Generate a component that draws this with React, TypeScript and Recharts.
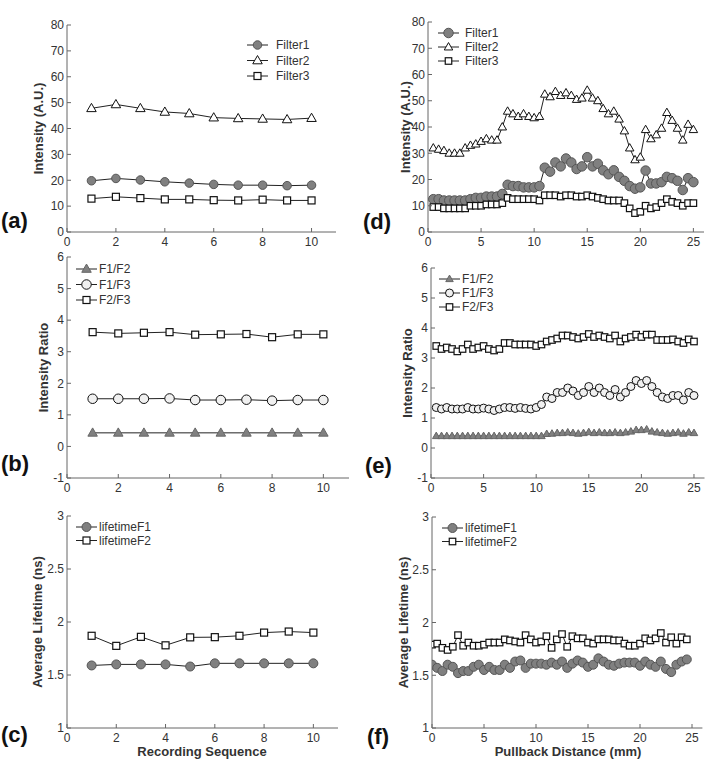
import React from "react";
import { LineChart, Line, XAxis, YAxis, Legend } from "recharts";

// ---------- data ----------
const seqX = [1, 2, 3, 4, 5, 6, 7, 8, 9, 10];
const filter1Seq = [19.8, 20.7, 20.1, 19.4, 18.9, 18.4, 18.1, 18.1, 17.9, 18.1];
const filter2Seq = [47.8, 49.3, 47.8, 46.4, 45.8, 44.2, 43.9, 43.7, 43.5, 44];
const filter3Seq = [12.9, 13.6, 13.1, 12.6, 12.6, 12.3, 12.2, 12.5, 12.2, 12.2];

const ratio12Seq = [0.43, 0.43, 0.43, 0.43, 0.43, 0.43, 0.43, 0.43, 0.43, 0.43];
const ratio13Seq = [1.51, 1.51, 1.51, 1.52, 1.47, 1.47, 1.48, 1.45, 1.47, 1.47];
const ratio23Seq = [3.62, 3.58, 3.6, 3.62, 3.54, 3.55, 3.56, 3.46, 3.55, 3.55];

const lifeF1Seq = [1.59, 1.6, 1.6, 1.6, 1.58, 1.61, 1.61, 1.61, 1.61, 1.61];
const lifeF2Seq = [1.87, 1.775, 1.86, 1.78, 1.855, 1.857, 1.87, 1.9, 1.91, 1.9];

const pullX = [
  0.5, 1, 1.5, 2, 2.5, 3, 3.5, 4, 4.5, 5, 5.5, 6, 6.5, 7, 7.5, 8, 8.5, 9, 9.5, 10,
  10.5, 11, 11.5, 12, 12.5, 13, 13.5, 14, 14.5, 15, 15.5, 16, 16.5, 17, 17.5, 18, 18.5, 19, 19.5, 20,
  20.5, 21, 21.5, 22, 22.5, 23, 23.5, 24, 24.5, 25,
];
const filter1Pull = [
  12.5, 12.5, 12, 12, 12, 12, 12, 12.5, 13, 13,
  13.5, 13.5, 13.5, 14.5, 18, 17.5, 17.5, 17, 17, 17,
  17.5, 24.5, 23, 26.5, 25, 28, 26.5, 24, 25, 28.5,
  25, 26, 23.5, 22, 23.5, 21, 19.5, 17.5, 16.5, 17,
  23.4, 18.5, 18.5, 19, 21, 20.5, 19.5, 16, 20.5, 19,
];
const filter2Pull = [
  32, 31.5, 31, 30, 30, 30, 32, 33, 33.5, 34.5,
  35.5, 35, 35, 40, 46, 45, 44, 45, 44, 43.5,
  44, 52.5, 51.5, 53.5, 52, 53, 52, 50.5, 51, 54,
  51, 50, 47, 45, 46, 43, 38.5, 32, 27.5, 28.5,
  39, 35.5, 37, 39.5, 45.5, 42.5, 39.5, 35, 41, 39,
];
const filter3Pull = [
  9.5, 9.5, 9, 9, 9, 9, 9, 10, 10, 10,
  10.5, 10.5, 10.5, 11, 13, 12.5, 12.5, 12.5, 12.5, 12.5,
  12, 14, 14, 14, 13.5, 14, 14, 13.5, 13.5, 14,
  13.5, 13, 12.5, 12, 12, 12, 11, 9, 7.2, 7.7,
  10, 9, 9.5, 11, 12.5, 11.5, 11, 10, 11, 11,
];

const ratio12Pull = [
  0.4, 0.4, 0.4, 0.4, 0.4, 0.4, 0.4, 0.4, 0.4, 0.4,
  0.4, 0.4, 0.4, 0.4, 0.4, 0.4, 0.4, 0.4, 0.4, 0.4,
  0.4, 0.47, 0.48, 0.5, 0.5, 0.52, 0.5, 0.48, 0.5, 0.53,
  0.5, 0.52, 0.5, 0.5, 0.52, 0.5, 0.52, 0.55, 0.6, 0.6,
  0.62, 0.55, 0.52, 0.5, 0.48, 0.5, 0.52, 0.48, 0.52, 0.5,
];
const ratio13Pull = [
  1.35, 1.3, 1.35, 1.3, 1.3, 1.3, 1.35, 1.3, 1.3, 1.33,
  1.3, 1.25, 1.3, 1.35, 1.35, 1.32, 1.35, 1.32, 1.3, 1.35,
  1.45, 1.7, 1.65, 1.85, 1.85, 2.0, 1.9, 1.75, 1.85, 2.05,
  1.85, 2.0, 1.85, 1.75, 1.95, 1.7, 1.85, 2.05, 2.25, 2.15,
  2.25, 2.05, 1.85, 1.7, 1.65, 1.75, 1.75, 1.6, 1.85, 1.75,
];
const ratio23Pull = [
  3.4, 3.3, 3.35, 3.3, 3.22, 3.3, 3.45, 3.3, 3.35, 3.4,
  3.3, 3.25, 3.3, 3.5, 3.5, 3.45, 3.45, 3.45, 3.45, 3.4,
  3.45, 3.55, 3.6, 3.65, 3.75, 3.75, 3.7, 3.65, 3.7, 3.8,
  3.7, 3.75, 3.7, 3.65, 3.75, 3.55, 3.65, 3.7, 3.78, 3.7,
  3.78, 3.78, 3.6, 3.6, 3.6, 3.62, 3.55, 3.5, 3.62, 3.55,
];

const lifeX = [
  0, 0.5, 1, 1.5, 2, 2.5, 3, 3.5, 4, 4.5, 5, 5.5, 6, 6.5, 7, 7.5, 8, 8.5, 9, 9.5,
  10, 10.5, 11, 11.5, 12, 12.5, 13, 13.5, 14, 14.5, 15, 15.5, 16, 16.5, 17, 17.5, 18, 18.5, 19, 19.5,
  20, 20.5, 21, 21.5, 22, 22.5, 23, 23.5, 24, 24.5,
];
const lifeF1Pull = [
  1.6, 1.57, 1.54, 1.6, 1.58, 1.52, 1.54, 1.54, 1.58, 1.6,
  1.55, 1.58, 1.55, 1.55, 1.6, 1.57, 1.63, 1.64, 1.57, 1.61,
  1.61, 1.61, 1.6, 1.62, 1.6, 1.63, 1.57, 1.61, 1.64, 1.62,
  1.58, 1.6, 1.66, 1.63, 1.6, 1.59, 1.61, 1.62, 1.62, 1.62,
  1.59, 1.63, 1.6, 1.58, 1.63, 1.56, 1.53, 1.6, 1.63, 1.65,
];
const lifeF2Pull = [
  1.79, 1.8, 1.76, 1.74, 1.77, 1.88, 1.78, 1.81, 1.78, 1.78,
  1.79, 1.81, 1.81, 1.81, 1.84, 1.83, 1.82, 1.81, 1.88, 1.84,
  1.81, 1.82, 1.87, 1.76, 1.84, 1.89, 1.77, 1.87, 1.85, 1.85,
  1.81, 1.8, 1.84, 1.84, 1.84, 1.83, 1.83, 1.8, 1.78, 1.78,
  1.8, 1.85, 1.83, 1.85, 1.9, 1.81, 1.86, 1.8, 1.86, 1.84,
];

const seqTicks = [0, 2, 4, 6, 8, 10];
const pullTicks = [0, 5, 10, 15, 20, 25];
const intensityTicks = [0, 10, 20, 30, 40, 50, 60, 70, 80];
const ratioTicks = [-1, 0, 1, 2, 3, 4, 5, 6];
const lifetimeTicks = [1, 1.5, 2, 2.5, 3];

// ---------- styling ----------
const FONT = "'Liberation Sans', Arial, sans-serif";
const AXIS = "#666";
const TEXT = "#333";
const LINE = "#222";
const TICK_GAP = 4;
const Y_AXIS_W = 34;

type Spec = { shape: "circle" | "triangle" | "square"; size: number; fill: string; stroke: string };

const greyCircle = (size: number): Spec => ({ shape: "circle", size, fill: "#808080", stroke: "#555" });
const lightCircle = (size: number): Spec => ({ shape: "circle", size, fill: "#f0f0f0", stroke: "#111" });
const openTri = (size: number): Spec => ({ shape: "triangle", size, fill: "#fff", stroke: "#111" });
const greyTri = (size: number): Spec => ({ shape: "triangle", size, fill: "#808080", stroke: "#666" });
const openSq = (size: number): Spec => ({ shape: "square", size, fill: "#fff", stroke: "#111" });

function Marker({ cx, cy, spec }: { cx: number; cy: number; spec: Spec }) {
  const s = spec.size;
  if (spec.shape === "circle") {
    return <circle cx={cx} cy={cy} r={s / 2} fill={spec.fill} stroke={spec.stroke} strokeWidth={1} />;
  }
  if (spec.shape === "square") {
    return <rect x={cx - s / 2} y={cy - s / 2} width={s} height={s} fill={spec.fill} stroke={spec.stroke} strokeWidth={1.2} />;
  }
  const h = s * 0.87;
  const d = `M${cx},${cy - h * 0.6} L${cx + s / 2},${cy + h * 0.4} L${cx - s / 2},${cy + h * 0.4} Z`;
  return <path d={d} fill={spec.fill} stroke={spec.stroke} strokeWidth={1} strokeLinejoin="miter" />;
}

const makeDot = (spec: Spec) => (props: any) => {
  if (props.cx == null || props.cy == null) return <g key={`e-${props.index}`} />;
  return (
    <g key={`d-${props.index}`}>
      <Marker cx={props.cx} cy={props.cy} spec={spec} />
    </g>
  );
};

const XTick = (p: any) => {
  const ay = p.y - TICK_GAP;
  return (
    <g>
      <line x1={p.x} x2={p.x} y1={ay} y2={ay - 4} stroke={AXIS} />
      <text x={p.x} y={p.y + 1} dy="0.75em" textAnchor="middle" fontSize={12} fill={TEXT} fontFamily={FONT}>
        {p.payload.value}
      </text>
    </g>
  );
};

const YTick = (p: any) => {
  const ax = p.x + TICK_GAP;
  return (
    <g>
      <line x1={ax} x2={ax + 4} y1={p.y} y2={p.y} stroke={AXIS} />
      <text x={p.x + 1} y={p.y} dy="0.36em" textAnchor="end" fontSize={12} fill={TEXT} fontFamily={FONT}>
        {p.payload.value}
      </text>
    </g>
  );
};

// ---------- layout ----------
const COLS = { L: { left: 0, width: 360 }, R: { left: 355, width: 354 } };
const ROWS = [
  { top: 0, height: 248 },
  { top: 248, height: 248 },
  { top: 496, height: 266 },
];

type Series = { key: string; name: string; spec: Spec };
type Panel = {
  id: string;
  tag: string;
  col: "L" | "R";
  row: number;
  plot: [number, number, number, number];
  xDomain: [number, number];
  xTicks: number[];
  yDomain: [number, number];
  yTicks: number[];
  yLabel: string;
  yLabelX: number;
  xLabel?: string;
  xLabelX?: number;
  tagPos: [number, number];
  legend: { x: number; y: number; step: number; gap: number };
  data: any[];
  series: Series[];
};

const seqRowsA = seqX.map((x, i) => ({ x, f1: filter1Seq[i], f2: filter2Seq[i], f3: filter3Seq[i] }));
const seqRowsB = seqX.map((x, i) => ({ x, r12: ratio12Seq[i], r13: ratio13Seq[i], r23: ratio23Seq[i] }));
const seqRowsC = seqX.map((x, i) => ({ x, l1: lifeF1Seq[i], l2: lifeF2Seq[i] }));
const pullRowsD = pullX.map((x, i) => ({ x, f1: filter1Pull[i], f2: filter2Pull[i], f3: filter3Pull[i] }));
const pullRowsE = pullX.map((x, i) => ({ x, r12: ratio12Pull[i], r13: ratio13Pull[i], r23: ratio23Pull[i] }));
const lifeRowsF = lifeX.map((x, i) => ({ x, l1: lifeF1Pull[i], l2: lifeF2Pull[i] }));

const panels: Panel[] = [
  {
    id: "a", tag: "(a)", col: "L", row: 0, plot: [67, 336, 25, 232],
    xDomain: [0, 11], xTicks: seqTicks, yDomain: [0, 80], yTicks: intensityTicks,
    yLabel: "Intensity (A.U.)", yLabelX: 38, tagPos: [1, 228],
    legend: { x: 247, y: 45, step: 15.5, gap: 8 }, data: seqRowsA,
    series: [
      { key: "f1", name: "Filter1", spec: greyCircle(8.5) },
      { key: "f2", name: "Filter2", spec: openTri(9.5) },
      { key: "f3", name: "Filter3", spec: openSq(7) },
    ],
  },
  {
    id: "b", tag: "(b)", col: "L", row: 1, plot: [67, 349, 257, 478],
    xDomain: [0, 11], xTicks: seqTicks, yDomain: [-1, 6], yTicks: ratioTicks,
    yLabel: "Intensity Ratio", yLabelX: 43, tagPos: [1, 471],
    legend: { x: 76, y: 269, step: 15.5, gap: 2 }, data: seqRowsB,
    series: [
      { key: "r12", name: "F1/F2", spec: greyTri(9.5) },
      { key: "r13", name: "F1/F3", spec: lightCircle(9.5) },
      { key: "r23", name: "F2/F3", spec: openSq(7) },
    ],
  },
  {
    id: "c", tag: "(c)", col: "L", row: 2, plot: [67, 338, 516, 728],
    xDomain: [0, 11], xTicks: seqTicks, yDomain: [1, 3], yTicks: lifetimeTicks,
    yLabel: "Average Lifetime (ns)", yLabelX: 37, xLabel: "Recording Sequence", xLabelX: 202,
    tagPos: [1, 742],
    legend: { x: 76, y: 527, step: 13.5, gap: 2 }, data: seqRowsC,
    series: [
      { key: "l1", name: "lifetimeF1", spec: greyCircle(9) },
      { key: "l2", name: "lifetimeF2", spec: openSq(7) },
    ],
  },
  {
    id: "d", tag: "(d)", col: "R", row: 0, plot: [428, 704, 22, 232],
    xDomain: [0, 26], xTicks: pullTicks, yDomain: [0, 80], yTicks: intensityTicks,
    yLabel: "Intensity (A.U.)", yLabelX: 405, tagPos: [363, 229],
    legend: { x: 438, y: 33, step: 14, gap: 6 }, data: pullRowsD,
    series: [
      { key: "f1", name: "Filter1", spec: greyCircle(9.5) },
      { key: "f2", name: "Filter2", spec: openTri(8.5) },
      { key: "f3", name: "Filter3", spec: openSq(6.5) },
    ],
  },
  {
    id: "e", tag: "(e)", col: "R", row: 1, plot: [431, 704.5, 268, 478],
    xDomain: [0, 26], xTicks: pullTicks, yDomain: [-1, 6], yTicks: ratioTicks,
    yLabel: "Intensity Ratio", yLabelX: 407, tagPos: [365, 473],
    legend: { x: 439, y: 279, step: 14, gap: 2 }, data: pullRowsE,
    series: [
      { key: "r12", name: "F1/F2", spec: greyTri(7.5) },
      { key: "r13", name: "F1/F3", spec: lightCircle(8) },
      { key: "r23", name: "F2/F3", spec: openSq(6.5) },
    ],
  },
  {
    id: "f", tag: "(f)", col: "R", row: 2, plot: [432, 702.4, 517, 728],
    xDomain: [0, 26], xTicks: pullTicks, yDomain: [1, 3], yTicks: lifetimeTicks,
    yLabel: "Average Lifetime (ns)", yLabelX: 403, xLabel: "Pullback Distance (mm)", xLabelX: 568,
    tagPos: [367, 744],
    legend: { x: 442, y: 528, step: 13.5, gap: 2 }, data: lifeRowsF,
    series: [
      { key: "l1", name: "lifetimeF1", spec: greyCircle(9) },
      { key: "l2", name: "lifetimeF2", spec: openSq(6.5) },
    ],
  },
];

function LegendBox({ series, step, gap }: { series: Series[]; step: number; gap: number }) {
  const lineLen = 21;
  return (
    <svg width={130} height={series.length * step + 6} style={{ display: "block", overflow: "visible" }}>
      {series.map((s, i) => {
        const y = 8 + i * step;
        return (
          <g key={s.key}>
            <line x1={2} x2={2 + lineLen} y1={y} y2={y} stroke={LINE} strokeWidth={1} />
            <Marker cx={2 + lineLen / 2} cy={y} spec={s.spec} />
            <text x={2 + lineLen + gap} y={y} dy="0.36em" fontSize={12} fill={TEXT} fontFamily={FONT}>
              {s.name}
            </text>
          </g>
        );
      })}
    </svg>
  );
}

function PanelChart({ p }: { p: Panel }) {
  const box = COLS[p.col];
  const row = ROWS[p.row];
  const [x0, x1, y0, y1] = p.plot;
  const margin = {
    left: x0 - box.left - Y_AXIS_W,
    right: box.left + box.width - x1,
    top: y0 - row.top,
    bottom: 0,
  };
  const xAxisH = row.top + row.height - y1;

  const yLabel = () => (
    <g>
      <text
        x={p.yLabelX - box.left}
        y={(y0 + y1) / 2 - row.top}
        transform={`rotate(-90 ${p.yLabelX - box.left} ${(y0 + y1) / 2 - row.top})`}
        textAnchor="middle"
        dominantBaseline="central"
        fontSize={13}
        fontWeight="bold"
        fill={TEXT}
        fontFamily={FONT}
      >
        {p.yLabel}
      </text>
      <text x={p.tagPos[0] - box.left} y={p.tagPos[1] - row.top} fontSize={22} fontWeight="bold" fill="#111" fontFamily={FONT}>
        {p.tag}
      </text>
    </g>
  );

  const xLabel = () =>
    p.xLabel ? (
      <text
        x={(p.xLabelX || 0) - box.left}
        y={751 - row.top}
        textAnchor="middle"
        dominantBaseline="central"
        fontSize={13}
        fontWeight="bold"
        fill={TEXT}
        fontFamily={FONT}
      >
        {p.xLabel}
      </text>
    ) : (
      <g />
    );

  return (
    <div style={{ position: "absolute", left: box.left, top: row.top }}>
      <LineChart width={box.width} height={row.height} data={p.data} margin={margin}>
        <XAxis
          type="number"
          dataKey="x"
          domain={p.xDomain}
          ticks={p.xTicks}
          interval={0}
          height={xAxisH}
          tickSize={0}
          tickMargin={TICK_GAP}
          tickLine={false}
          tick={(t: any) => <XTick {...t} />}
          axisLine={{ stroke: AXIS }}
          allowDataOverflow
          label={xLabel}
        />
        <YAxis
          type="number"
          domain={p.yDomain}
          ticks={p.yTicks}
          interval={0}
          width={Y_AXIS_W}
          tickSize={0}
          tickMargin={TICK_GAP}
          tickLine={false}
          tick={(t: any) => <YTick {...t} />}
          axisLine={{ stroke: AXIS }}
          allowDataOverflow
          label={yLabel}
        />
        {p.series.map((s) => (
          <Line
            key={s.key}
            type="linear"
            dataKey={s.key}
            name={s.name}
            stroke={LINE}
            strokeWidth={1}
            dot={makeDot(s.spec)}
            activeDot={false}
            isAnimationActive={false}
          />
        ))}
        <Legend
          layout="vertical"
          align="center"
          verticalAlign="middle"
          wrapperStyle={{ left: p.legend.x - box.left - 2, top: p.legend.y - row.top - 8, width: 130 }}
          content={() => <LegendBox series={p.series} step={p.legend.step} gap={p.legend.gap} />}
        />
      </LineChart>
    </div>
  );
}

export default function App() {
  return (
    <div style={{ position: "absolute", left: 0, top: 0, width: 709, height: 762, background: "#fff", fontFamily: FONT }}>
      {panels.map((p) => (
        <PanelChart key={p.id} p={p} />
      ))}
    </div>
  );
}
